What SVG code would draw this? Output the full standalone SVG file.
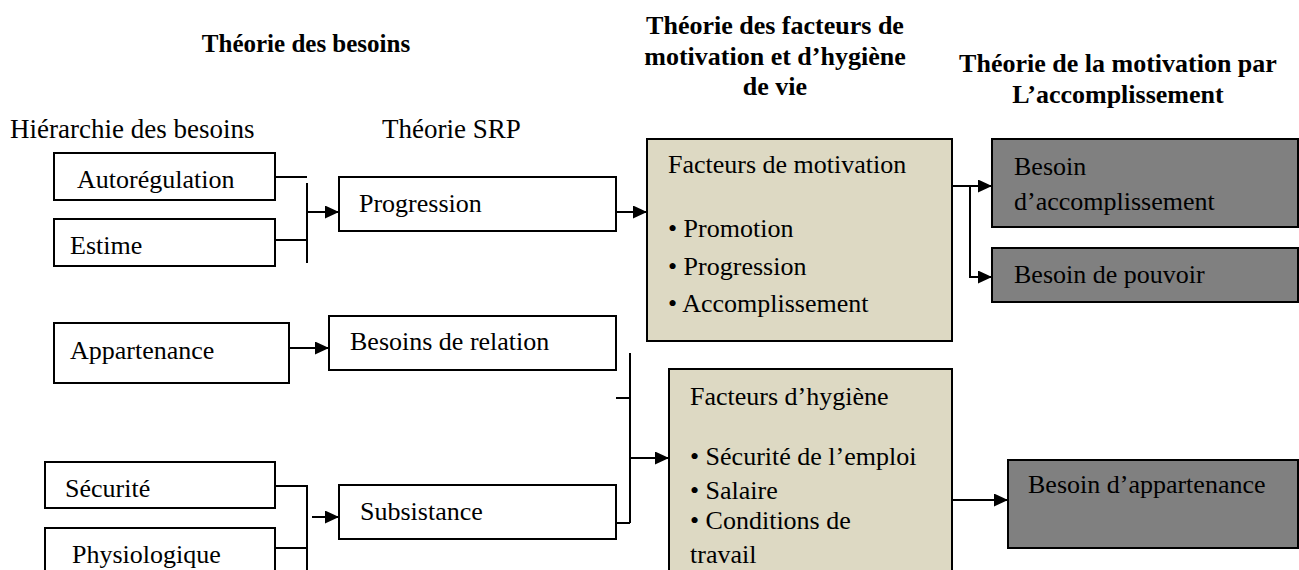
<svg xmlns="http://www.w3.org/2000/svg" width="1299" height="570" viewBox="0 0 1299 570">
<style>
text{font-family:"Liberation Serif","Times New Roman",serif;font-size:26px;fill:#000}
.h{font-weight:bold;font-size:26px;text-anchor:middle}
.sub{font-size:27px}
.box{fill:#fff;stroke:#000;stroke-width:2}
.beige{fill:#DDD9C3;stroke:#000;stroke-width:2}
.grey{fill:#808080;stroke:#000;stroke-width:2}
.c{fill:none;stroke:#000;stroke-width:2}
</style>
<defs>
<marker id="arr" markerUnits="userSpaceOnUse" markerWidth="15" markerHeight="13" refX="14" refY="6.5" orient="auto">
<path d="M0,0 L14,6.5 L0,13 Z" fill="#000"/>
</marker>
</defs>
<g id="headers">
<text class="h" x="306" y="52" style="font-size:25px">Théorie des besoins</text>
<text class="h" x="775" y="34">Théorie des facteurs de</text>
<text class="h" x="775" y="65">motivation et d’hygiène</text>
<text class="h" x="775" y="95">de vie</text>
<text class="h" x="1118" y="72">Théorie de la motivation par</text>
<text class="h" x="1118" y="103">L’accomplissement</text>
<text class="sub" x="10" y="138">Hiérarchie des besoins</text>
<text class="sub" x="382" y="138">Théorie SRP</text>
</g>
<g id="connectors">
<path class="c" d="M275,177 H307 M307,183 V263 M275,240 H307"/>
<path class="c" d="M307,212 H339" marker-end="url(#arr)"/>
<path class="c" d="M616,212 H647" marker-end="url(#arr)"/>
<path class="c" d="M289,348 H329" marker-end="url(#arr)"/>
<path class="c" d="M630,353 V523 M616,398 H630 M616,523 H630"/>
<path class="c" d="M630,458 H669" marker-end="url(#arr)"/>
<path class="c" d="M275,486 H307 V570 M275,548 H307"/>
<path class="c" d="M312,517 H339" marker-end="url(#arr)"/>
<path class="c" d="M952,186 H992" marker-end="url(#arr)"/>
<path class="c" d="M970,186 V277 H992" marker-end="url(#arr)"/>
<path class="c" d="M952,500 H1008" marker-end="url(#arr)"/>
</g>
<g id="autoregulation"><rect class="box" x="54" y="153" width="221" height="47"/><text x="77" y="188">Autorégulation</text></g>
<g id="estime"><rect class="box" x="54" y="219" width="221" height="47"/><text x="70" y="254">Estime</text></g>
<g id="appartenance"><rect class="box" x="54" y="323" width="235" height="60"/><text x="70" y="359">Appartenance</text></g>
<g id="securite"><rect class="box" x="45" y="462" width="230" height="46"/><text x="65" y="497">Sécurité</text></g>
<g id="physiologique"><rect class="box" x="45" y="528" width="230" height="60"/><text x="72" y="563">Physiologique</text></g>
<g id="progression"><rect class="box" x="339" y="177" width="277" height="54"/><text x="359" y="212">Progression</text></g>
<g id="relation"><rect class="box" x="329" y="316" width="287" height="54"/><text x="350" y="350">Besoins de relation</text></g>
<g id="subsistance"><rect class="box" x="339" y="485" width="277" height="54"/><text x="360" y="520">Subsistance</text></g>
<g id="motivation"><rect class="beige" x="647" y="139" width="305" height="202"/>
<text x="668" y="173">Facteurs de motivation</text>
<text x="668" y="237">• Promotion</text>
<text x="668" y="275">• Progression</text>
<text x="668" y="312">• Accomplissement</text></g>
<g id="hygiene"><rect class="beige" x="669" y="369" width="283" height="215"/>
<text x="690" y="405">Facteurs d’hygiène</text>
<text x="690" y="465">• Sécurité de l’emploi</text>
<text x="690" y="499">• Salaire</text>
<text x="690" y="529">• Conditions de</text>
<text x="690" y="563">travail</text></g>
<g id="accomplissement"><rect class="grey" x="992" y="139" width="306" height="88"/><text x="1014" y="175">Besoin</text><text x="1014" y="210">d’accomplissement</text></g>
<g id="pouvoir"><rect class="grey" x="992" y="248" width="306" height="54"/><text x="1014" y="283">Besoin de pouvoir</text></g>
<g id="appartenance-besoin"><rect class="grey" x="1008" y="460" width="290" height="88"/><text x="1028" y="493">Besoin d’appartenance</text></g>
</svg>
